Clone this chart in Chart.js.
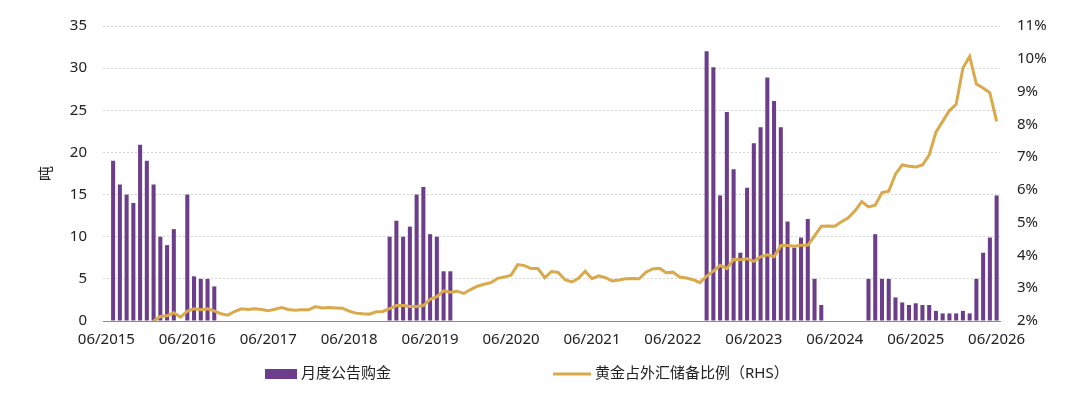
<!DOCTYPE html>
<html lang="zh-CN">
<head>
<meta charset="utf-8">
<title>月度公告购金与黄金占外汇储备比例</title>
<script src="https://cdn.jsdelivr.net/npm/chart.js@4.4.1/dist/chart.umd.min.js"></script>
<style>
    html, body { margin: 0; padding: 0; background: #fff; }
    #grafico { display: block; }
</style>
</head>
<body>
<canvas id="grafico" width="1080" height="402"></canvas>
<script>
// meses de 06/2015 a 06/2026
const meses = [];
for (let a = 2015, m = 6; a < 2026 || (a === 2026 && m <= 6); m++) {
    if (m > 12) { m = 1; a++; }
    meses.push(String(m).padStart(2, '0') + '/' + a);
}

const nomesSeries = ['月度公告购金', '黄金占外汇储备比例（RHS）'];
const tituloEixo = '吨';

// compras mensais (toneladas), uma linha por ano a partir de 06
const compras = [
    null, 19, 16.2, 15, 14, 20.9, 19, 16.2, 10, 9, 10.9, null,
    15, 5.3, 5, 5, 4.1, null, null, null, null, null, null, null,
    null, null, null, null, null, null, null, null, null, null, null, null,
    null, null, null, null, null, null, 10, 11.9, 10, 11.2, 15, 15.9,
    10.3, 10, 5.9, 5.9, null, null, null, null, null, null, null, null,
    null, null, null, null, null, null, null, null, null, null, null, null,
    null, null, null, null, null, null, null, null, null, null, null, null,
    null, null, null, null, null, 32, 30.1, 14.9, 24.8, 18, 8.1, 15.8,
    21.1, 23, 28.9, 26.1, 23, 11.8, 8.7, 9.9, 12.1, 5, 1.9, null,
    null, null, null, null, null, 5, 10.3, 5, 5, 2.8, 2.2, 1.9,
    2.1, 1.9, 1.9, 1.2, 0.9, 0.9, 0.9, 1.2, 0.9, 5, 8.1, 9.9,
    14.9
];

// participação do ouro nas reservas (%)
const participacao = [
    null, null, null, null, null, null, null, 2.00, 2.14, 2.16, 2.25, 2.12,
    2.30, 2.37, 2.34, 2.37, 2.31, 2.22, 2.18, 2.29, 2.37, 2.35, 2.37, 2.35,
    2.31, 2.36, 2.41, 2.35, 2.33, 2.34, 2.34, 2.44, 2.40, 2.41, 2.40, 2.39,
    2.30, 2.24, 2.22, 2.21, 2.28, 2.29, 2.38, 2.47, 2.47, 2.44, 2.44, 2.47,
    2.66, 2.74, 2.92, 2.88, 2.91, 2.84, 2.96, 3.06, 3.12, 3.17, 3.30, 3.34,
    3.40, 3.72, 3.69, 3.60, 3.60, 3.32, 3.51, 3.48, 3.26, 3.19, 3.30, 3.52,
    3.29, 3.38, 3.32, 3.22, 3.25, 3.29, 3.30, 3.29, 3.49, 3.59, 3.61, 3.47,
    3.49, 3.34, 3.31, 3.26, 3.17, 3.37, 3.52, 3.70, 3.60, 3.88, 3.87, 3.90,
    3.82, 3.96, 4.02, 3.96, 4.30, 4.30, 4.28, 4.31, 4.31, 4.60, 4.89, 4.90,
    4.89, 5.03, 5.15, 5.36, 5.64, 5.48, 5.53, 5.92, 5.96, 6.48, 6.76, 6.72,
    6.70, 6.76, 7.06, 7.76, 8.09, 8.42, 8.61, 9.72, 10.07, 9.23, 9.11, 8.96,
    8.09
];

const roxo = '#6C3D8B';
const dourado = '#D9A94C';
const fonte = '"Noto Sans", "Noto Sans CJK SC", sans-serif';

Chart.defaults.font.family = fonte;
Chart.defaults.font.size = 15;
Chart.defaults.color = '#222';

// legenda desenhada embaixo, com espaçamento do original
const legendaInferior = {
    id: 'legendaInferior',
    afterDraw(chart) {
        const ctx = chart.ctx;
        const y = 374;
        ctx.save();
        ctx.font = '15px ' + fonte;
        ctx.textBaseline = 'middle';
        ctx.fillStyle = roxo;
        ctx.fillRect(265, y - 5, 32, 10);
        ctx.fillStyle = '#222';
        ctx.fillText(nomesSeries[0], 301, y);
        ctx.strokeStyle = dourado;
        ctx.lineWidth = 3;
        ctx.beginPath();
        ctx.moveTo(553, y);
        ctx.lineTo(591, y);
        ctx.stroke();
        ctx.fillStyle = '#222';
        ctx.fillText(nomesSeries[1], 595, y);
        ctx.restore();
    }
};

const ctx = document.getElementById('grafico').getContext('2d');

new Chart(ctx, {
    type: 'bar',
    data: {
        labels: meses,
        datasets: [{
            type: 'bar',
            label: nomesSeries[0],
            data: compras,
            backgroundColor: roxo,
            borderWidth: 0,
            barPercentage: 0.6,
            categoryPercentage: 1,
            yAxisID: 'y',
            order: 1
        }, {
            type: 'line',
            label: nomesSeries[1],
            data: participacao,
            borderColor: dourado,
            backgroundColor: dourado,
            borderWidth: 3,
            pointRadius: 0,
            tension: 0,
            spanGaps: false,
            yAxisID: 'y1',
            order: 0
        }]
    },
    options: {
        responsive: false,
        devicePixelRatio: 1,
        animation: false,
        layout: {
            padding: { top: 24, right: 0, bottom: 51, left: 0 }
        },
        plugins: {
            legend: { display: false },
            tooltip: { enabled: false }
        },
        scales: {
            x: {
                offset: true,
                grid: { display: false, drawTicks: false },
                border: { display: true, color: '#8a8a8a', width: 1 },
                ticks: {
                    autoSkip: false,
                    maxRotation: 0,
                    padding: 10,
                    callback: function (valor, i) {
                        return i % 12 === 0 ? this.getLabelForValue(valor) : '';
                    }
                },
                afterFit(escala) { escala.height = 30; }
            },
            y: {
                position: 'left',
                min: 0,
                max: 35,
                ticks: { stepSize: 5, padding: 16 },
                grid: { color: '#d6d6d6', drawTicks: false },
                border: { display: false, dash: [2, 2] },
                title: {
                    display: true,
                    text: tituloEixo,
                    padding: { top: 38, bottom: 0 }
                },
                afterFit(escala) { escala.width = 103; }
            },
            y1: {
                position: 'right',
                min: 2,
                max: 11,
                ticks: {
                    stepSize: 1,
                    padding: 17,
                    callback: (v) => v + '%'
                },
                grid: { display: false, drawTicks: false },
                border: { display: false },
                afterFit(escala) { escala.width = 80; }
            }
        }
    },
    plugins: [legendaInferior]
});
</script>
</body>
</html>
